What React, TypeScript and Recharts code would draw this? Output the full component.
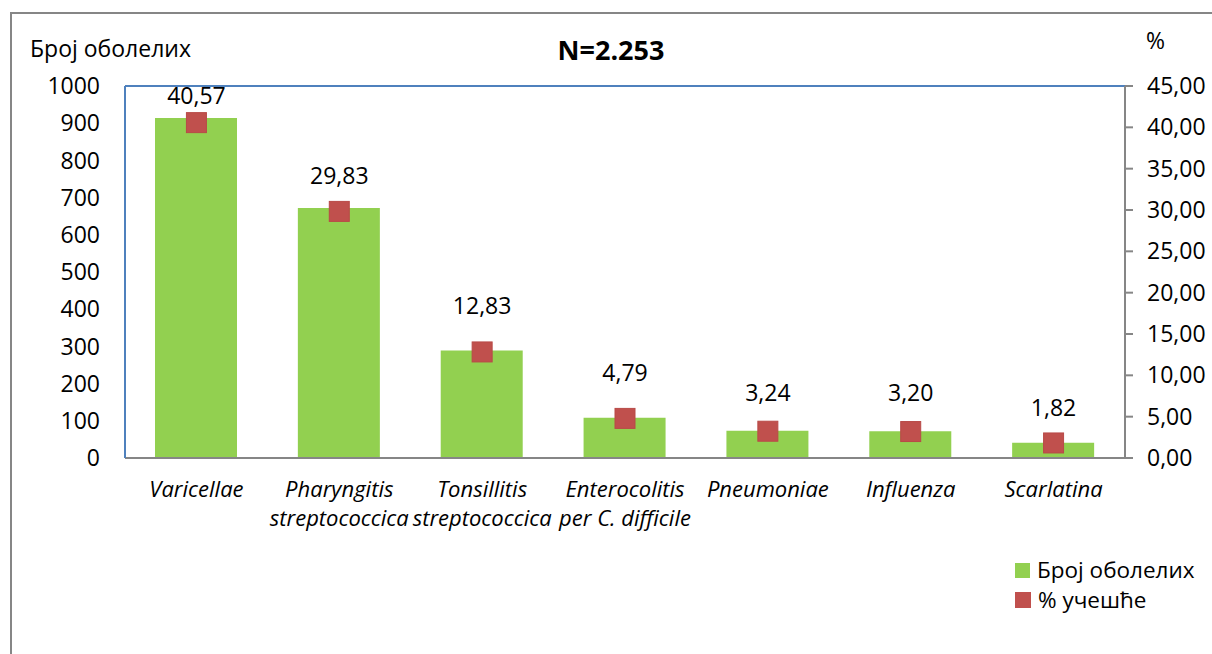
import React from 'react'
import {
  ComposedChart,
  Bar,
  Line,
  XAxis,
  YAxis,
  ReferenceLine,
  LabelList
} from 'recharts'

const diseases = [
  'Varicellae',
  'Pharyngitis\nstreptococcica',
  'Tonsillitis\nstreptococcica',
  'Enterocolitis\nper C. difficile',
  'Pneumoniae',
  'Influenza',
  'Scarlatina'
]
const caseCounts = [914, 672, 289, 108, 73, 72, 41]
const sharePct = [40.57, 29.83, 12.83, 4.79, 3.24, 3.2, 1.82]
const leftTicks = [0, 100, 200, 300, 400, 500, 600, 700, 800, 900, 1000]
const rightTicks = [0, 5, 10, 15, 20, 25, 30, 35, 40, 45]

// how far each percent label sits above its marker (hand placed in the original)
const labelLift = [28, 36, 47, 46, 39, 40, 36]

const FONT = '"Open Sans", "Noto Sans", sans-serif'
const GREEN = '#92D050'
const RED = '#C0504D'
const BLUE = '#4F81BD'
const GRAY = '#868686'
const FS = 23

const data = diseases.map((name, i) => ({
  name,
  cases: caseCounts[i],
  pct: sharePct[i]
}))

const comma = (v: number) => v.toFixed(2).replace('.', ',')

function CategoryTick(props: any) {
  const { x, y, payload } = props
  const lines = String(payload.value).split('\n')
  return (
    <text
      x={x}
      y={y}
      textAnchor="middle"
      fontFamily={FONT}
      fontSize={22}
      fontStyle="italic"
      fill="#000"
    >
      {lines.map((l, i) => (
        <tspan key={i} x={x} dy={i === 0 ? 31 : 29}>
          {l}
        </tspan>
      ))}
    </text>
  )
}

function SquareDot(props: any) {
  const { cx, cy, index } = props
  if (cx == null || cy == null) return <g key={index} />
  return <rect key={index} x={cx - 10} y={cy - 10} width={20} height={20} fill={RED} stroke="#B84A47" strokeWidth={1} />
}

function PctLabel(props: any) {
  const { x, y, value, index } = props
  return (
    <text
      x={x}
      y={y - labelLift[index]}
      textAnchor="middle"
      dominantBaseline="central"
      fontFamily={FONT}
      fontSize={FS}
      fill="#000"
    >
      {comma(Number(value))}
    </text>
  )
}

export default function App() {
  const textStyle: React.CSSProperties = {
    position: 'absolute',
    fontFamily: FONT,
    fontSize: FS,
    color: '#000',
    whiteSpace: 'nowrap',
    lineHeight: 1
  }

  return (
    <div style={{ position: 'absolute', left: 0, top: 0, width: 1212, height: 654, background: '#fff', overflow: 'hidden' }}>
      <div
        style={{
          position: 'absolute',
          left: 10,
          top: 12,
          width: 1212,
          height: 700,
          borderTop: `2px solid ${GRAY}`,
          borderLeft: `2px solid ${GRAY}`
        }}
      />
      <ComposedChart
        width={1212}
        height={654}
        data={data}
        margin={{ top: 86, right: 0, left: 0, bottom: 0 }}
        style={{ position: 'absolute', left: 0, top: 0 }}
      >
        <XAxis
          dataKey="name"
          axisLine={{ stroke: GRAY, strokeWidth: 2 }}
          tickLine={false}
          interval={0}
          height={196}
          tick={<CategoryTick />}
        />
        <YAxis
          yAxisId="left"
          orientation="left"
          width={125}
          domain={[0, 1000]}
          ticks={leftTicks}
          interval={0}
          axisLine={{ stroke: BLUE, strokeWidth: 2 }}
          tickLine={false}
          tickSize={0}
          tickMargin={25}
          tick={{ fill: '#000', fontSize: FS, fontFamily: FONT }}
        />
        <YAxis
          yAxisId="right"
          orientation="right"
          width={87}
          domain={[0, 45]}
          ticks={rightTicks}
          interval={0}
          axisLine={{ stroke: GRAY, strokeWidth: 2 }}
          tickLine={{ stroke: GRAY, strokeWidth: 2 }}
          tickSize={8}
          tickMargin={14}
          tickFormatter={comma}
          tick={{ fill: '#000', fontSize: FS, fontFamily: FONT, textAnchor: 'start' }}
        />
        <ReferenceLine yAxisId="left" y={1000} stroke={BLUE} strokeWidth={2} />
        <Bar
          yAxisId="left"
          dataKey="cases"
          fill={GREEN}
          barSize={82}
          isAnimationActive={false}
        />
        <Line
          yAxisId="right"
          dataKey="pct"
          stroke="none"
          dot={<SquareDot />}
          activeDot={false}
          isAnimationActive={false}
        >
          <LabelList dataKey="pct" content={<PctLabel />} />
        </Line>
      </ComposedChart>

      <div style={{ ...textStyle, left: 30, top: 37 }}>Број оболелих</div>
      <div style={{ ...textStyle, left: 1146, top: 29 }}>%</div>
      <div style={{ ...textStyle, left: 611, top: 36, transform: 'translateX(-50%)', fontWeight: 700, fontSize: 27 }}>N=2.253</div>

      <div style={{ position: 'absolute', left: 1015, top: 555, fontFamily: FONT, fontSize: 22.5, lineHeight: '30px' }}>
        <div style={{ display: 'flex', alignItems: 'center' }}>
          <span style={{ display: 'inline-block', width: 15, height: 15, background: GREEN, marginRight: 7 }} />
          Број оболелих
        </div>
        <div style={{ display: 'flex', alignItems: 'center' }}>
          <span style={{ display: 'inline-block', width: 16, height: 16, background: RED, marginRight: 7 }} />
          % учешће
        </div>
      </div>
    </div>
  )
}
